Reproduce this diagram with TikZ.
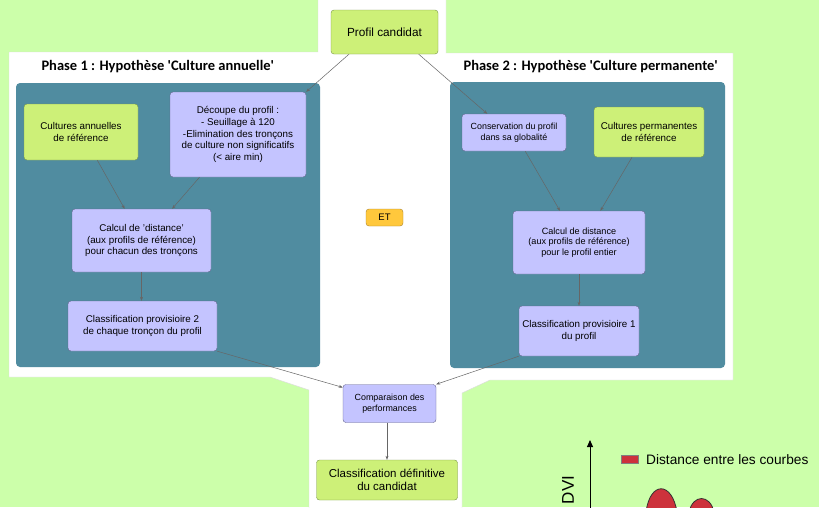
\documentclass[tikz,border=0pt]{standalone}
\usepackage{fontspec}
\setmainfont{Liberation Sans}
\newfontfamily\titlefont{Carlito}
\usetikzlibrary{arrows.meta}

\definecolor{fond}{RGB}{204,255,170}
\definecolor{vert}{RGB}{205,240,120}
\definecolor{vertbord}{RGB}{120,150,70}
\definecolor{lilas}{RGB}{196,196,255}
\definecolor{lilasbord}{RGB}{100,100,140}
\definecolor{sarcelle}{RGB}{80,140,160}
\definecolor{orange}{RGB}{255,200,60}
\definecolor{orangebord}{RGB}{170,130,40}
\definecolor{rouge}{RGB}{205,50,60}

\newcommand{\fs}[1]{\fontsize{#1}{1.18\dimexpr #1pt\relax}\selectfont}

\begin{document}
\begin{tikzpicture}[x=1pt, y=-1pt, >={Stealth[length=4pt, width=3pt]},
    block/.style={draw, rounded corners=3pt, align=center, inner sep=1pt, font=\fs{9.8}},
    vertbox/.style={block, fill=vert, draw=vertbord},
    lilasbox/.style={block, fill=lilas, draw=lilasbord},
    fleche/.style={->, draw=black!60, line width=0.5pt},
    phase/.style={anchor=west, font=\titlefont\bfseries\fs{14.5}}]

    % cadre
    \useasboundingbox (0,0) rectangle (819,507);
    \clip (0,0) rectangle (819,507);
    \fill[fond] (0,0) rectangle (819,507);
    \draw[fill=white, draw=black!15] (318,-2) -- (446,-2) -- (446,53) -- (733,53) -- (733,380)
        -- (490,380) -- (462,393) -- (462,510) -- (309,510) -- (309,390) -- (270,377)
        -- (9,377) -- (9,52) -- (318,52) -- cycle;

    % les deux phases
    \fill[sarcelle, rounded corners=4pt] (16,83) rectangle (320,367);
    \fill[sarcelle, rounded corners=4pt] (450,82) rectangle (725,368);
    \node[phase] (titre1) at (38,67) {Phase 1 : Hypothèse 'Culture annuelle'};
    \node[phase] (titre2) at (460,67) {Phase 2 : Hypothèse 'Culture permanente'};

    % entree
    \node[vertbox, minimum width=107, minimum height=44, font=\fs{11.8}] (cand) at (384.5,32) {Profil candidat};

    % phase 1
    \node[vertbox, minimum width=114, minimum height=56] (annu) at (81,132) {Cultures annuelles\\de référence};
    \node[lilasbox, minimum width=136, minimum height=85] (decoupe) at (238,134.5)
        {Découpe du profil :\\- Seuillage à 120\\-Elimination des tronçons\\de culture non significatifs\\(< aire min)};
    \node[lilasbox, minimum width=139, minimum height=63] (calcg) at (141.5,240.5)
        {Calcul de 'distance'\\(aux profils de référence)\\pour chacun des tronçons};
    \node[lilasbox, minimum width=149, minimum height=50] (classg) at (142.5,326)
        {Classification provisioire 2\\de chaque tronçon du profil};

    % phase 2
    \node[lilasbox, minimum width=104, minimum height=37, font=\fs{8.9}] (conserv) at (514,132.5)
        {Conservation du profil\\dans sa globalité};
    \node[vertbox, minimum width=110, minimum height=50] (perm) at (649,132)
        {Cultures permanentes\\de référence};
    \node[lilasbox, minimum width=132, minimum height=63, font=\fs{9.1}] (calcd) at (579,242.5)
        {Calcul de distance\\(aux profils de référence)\\pour le profil entier};
    \node[lilasbox, minimum width=120, minimum height=50] (classd) at (579,331)
        {Classification provisioire 1\\du profil};

    % ET
    \node[block, fill=orange, draw=orangebord, minimum width=37, minimum height=17, font=\fs{9.5}] (et) at (384.5,217.5) {ET};

    % sortie
    \node[lilasbox, minimum width=93, minimum height=38, font=\fs{8.9}] (comp) at (389.5,403.5)
        {Comparaison des\\performances};
    \node[vertbox, minimum width=141, minimum height=40, font=\fs{11.5}] (defin) at (387,480)
        {Classification définitive\\du candidat};

    % fleches
    \draw[fleche] (cand.212) -- (decoupe.north east);
    \draw[fleche] (cand.327) -- (conserv.145);
    \draw[fleche] (annu.300) -- (calcg.118);
    \draw[fleche] (decoupe.228) -- (calcg.46);
    \draw[fleche] (calcg) -- (calcg |- classg.north);
    \draw[fleche] (conserv.301) -- (calcd.121);
    \draw[fleche] (perm.236) -- (calcd.56);
    \draw[fleche] (calcd) -- (calcd |- classd.north);
    \draw[fleche] (classg.south east) -- (comp.161);
    \draw[fleche] (classd.south west) -- (comp.north east);
    \draw[fleche] (comp.south -| defin) -- (defin.north);

    % graphe DVI
    \coordinate (axebas) at (590,510);
    \coordinate (axehaut) at (590,440);
    \draw[-{Triangle[length=7pt, width=6pt]}, line width=1pt] (axebas) -- (axehaut);
    \node[rotate=90, font=\fs{17}] (dvi) at (568,490) {DVI};
    \node[fill=rouge, draw=black!50, minimum width=17, minimum height=8, inner sep=0pt] (leg) at (629.5,459.5) {};
    \node[anchor=west, font=\fs{13.7}, inner sep=0pt] (legtxt) at (646,460) {Distance entre les courbes};
    \draw[fill=rouge, draw=black!80, line width=0.8pt] (646,512) .. controls (650,481) and (672,481) .. (677,512);
    \draw[fill=rouge, draw=black!80, line width=0.8pt] (689,512) .. controls (693,494) and (710,494) .. (714,512);

\end{tikzpicture}
\end{document}
